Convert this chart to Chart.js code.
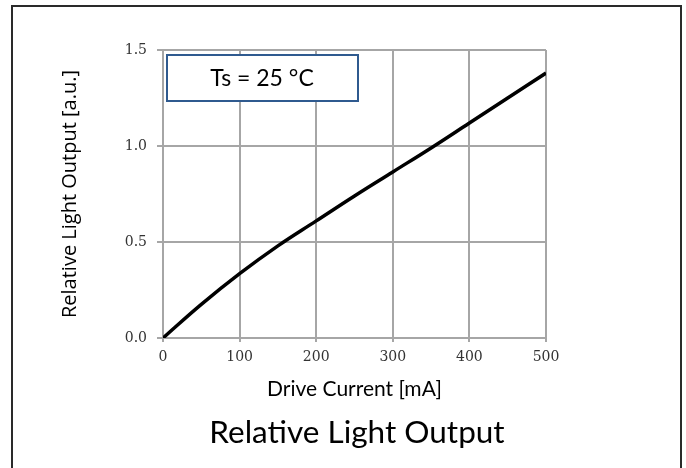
<!DOCTYPE html>
<html>
<head>
<meta charset="utf-8">
<style>
html,body{margin:0;padding:0;background:#fff;}
#wrap{position:relative;width:686px;height:468px;}
canvas{display:block;}
</style>
<script src="https://cdn.jsdelivr.net/npm/chart.js@4"></script>
</head>
<body>
<div id="wrap"><canvas id="c" width="686" height="468"></canvas></div>
<script>
const driveCurrent = [0, 50, 100, 150, 200, 250, 300, 350, 400, 450, 500];
const lightOutput = [0, 0.175, 0.335, 0.48, 0.61, 0.74, 0.865, 0.99, 1.12, 1.25, 1.38];
const xTicks = [0, 100, 200, 300, 400, 500];
const yTicks = [0, 0.5, 1.0, 1.5];
const chartTitle = 'Relative Light Output';
const xTitle = 'Drive Current [mA]';
const yTitle = 'Relative Light Output [a.u.]';
const noteText = 'Ts = 25 \u00B0C';

const decor = {
  id: 'decor',
  beforeDraw(chart) {
    const ctx = chart.ctx;
    ctx.save();
    ctx.fillStyle = '#fff';
    ctx.fillRect(0, 0, chart.width, chart.height);
    ctx.strokeStyle = '#2a2a2a';
    ctx.lineWidth = 2;
    ctx.beginPath();
    ctx.moveTo(12, 470);
    ctx.lineTo(12, 6);
    ctx.lineTo(681, 6);
    ctx.lineTo(681, 470);
    ctx.stroke();
    ctx.restore();
  },
  afterDraw(chart) {
    const ctx = chart.ctx;
    ctx.save();
    ctx.fillStyle = '#fff';
    ctx.fillRect(167, 55, 191, 46);
    ctx.strokeStyle = '#2f5a8f';
    ctx.lineWidth = 2;
    ctx.strokeRect(167, 55, 191, 46);
    ctx.fillStyle = '#000';
    ctx.font = '23px Lato';
    ctx.textAlign = 'center';
    ctx.textBaseline = 'middle';
    ctx.fillText(noteText, 262, 79);
    ctx.font = '31.5px Lato';
    ctx.fillText(chartTitle, 357, 433);
    ctx.restore();
  }
};

const pts = driveCurrent.map((x, i) => ({x: x, y: lightOutput[i]}));

new Chart(document.getElementById('c'), {
  type: 'line',
  data: {
    datasets: [{
      data: pts,
      borderColor: '#000',
      borderWidth: 3.5,
      pointRadius: 0,
      fill: false,
      tension: 0.4
    }]
  },
  options: {
    responsive: false,
    animation: false,
    devicePixelRatio: 1,
    layout: {padding: {left: 58, right: 140, top: 50, bottom: 66}},
    plugins: {legend: {display: false}, tooltip: {enabled: false}, title: {display: false}},
    scales: {
      x: {
        type: 'linear',
        min: 0, max: 500,
        afterBuildTicks(s) { s.ticks = xTicks.map(v => ({value: v})); },
        afterFit(s) { s.height = 64; },
        grid: {color: '#a6a6a6', lineWidth: 2, tickLength: 4, drawTicks: true},
        border: {color: '#a6a6a6', width: 2},
        ticks: {font: {family: 'DejaVu Serif', size: 14}, color: '#333', padding: 7, maxRotation: 0},
        title: {display: true, text: xTitle, font: {family: 'Lato', size: 21}, color: '#000', padding: 0}
      },
      y: {
        type: 'linear',
        min: 0, max: 1.5,
        afterBuildTicks(s) { s.ticks = yTicks.map(v => ({value: v})); },
        afterFit(s) { s.width = 105; },
        grid: {color: '#a6a6a6', lineWidth: 2, tickLength: 6},
        border: {color: '#a6a6a6', width: 2},
        ticks: {font: {family: 'DejaVu Serif', size: 14}, color: '#333', padding: 10,
          callback: v => v.toFixed(1)},
        title: {display: true, text: yTitle, font: {family: 'Open Sans', size: 20}, color: '#000', padding: 0}
      }
    }
  },
  plugins: [decor]
});
</script>
</body>
</html>
